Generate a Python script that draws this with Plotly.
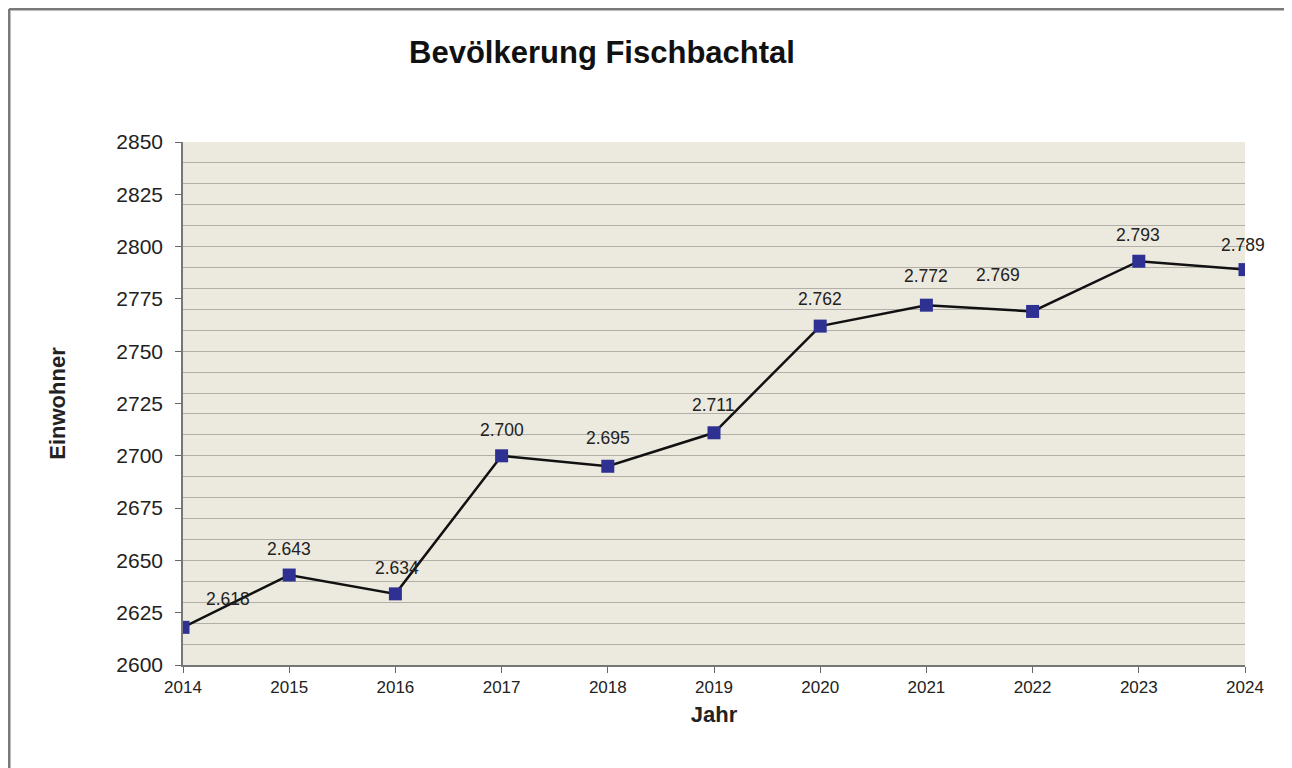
import plotly.graph_objects as go

years = [2014, 2015, 2016, 2017, 2018, 2019, 2020, 2021, 2022, 2023, 2024]
population = [2618, 2643, 2634, 2700, 2695, 2711, 2762, 2772, 2769, 2793, 2789]
labels = ["2.618", "2.643", "2.634", "2.700", "2.695", "2.711", "2.762", "2.772", "2.769", "2.793", "2.789"]
y_ticks = list(range(2600, 2851, 25))

# label offsets in pixels (style)
label_dx = [45, 0, 2, 0, 0, -1, 0, 0, -35, -1, -2]
label_dy = [-28, -26, -26, -26, -28, -28, -27, -29, -36, -26, -25]

FONT = "Liberation Sans, Arial"

fig = go.Figure()
fig.add_trace(go.Scatter(
    x=years, y=population, mode="lines+markers",
    line=dict(color="#111111", width=2.5),
    marker=dict(symbol="square", size=13, color="#2E3192", line=dict(width=0)),
    showlegend=False, hoverinfo="x+y",
))

for x, y, t, dx, dy in zip(years, population, labels, label_dx, label_dy):
    fig.add_annotation(x=x, y=y, text=t, showarrow=False, xshift=dx, yshift=-dy,
                       font=dict(family=FONT, size=17.5, color="#222222"))

W, H = 1284, 760
L, R, T, B = 175, 47, 134, 103
fig.update_layout(
    width=W, height=H,
    margin=dict(l=L, r=R, t=T, b=B),
    paper_bgcolor="white", plot_bgcolor="#ECE9DF",
    title=dict(text="<b>Bevölkerung Fischbachtal</b>", x=594 / W, xanchor="center",
               y=1 - 44 / H, yanchor="middle",
               font=dict(family=FONT, size=31, color="#111111")),
    font=dict(family=FONT, color="#222222"),
)

fig.update_xaxes(
    range=[2014, 2024], tickmode="array", tickvals=years,
    ticktext=[str(y) for y in years],
    tickfont=dict(size=17), ticks="outside", ticklen=6, tickcolor="#666666",
    showline=True, linecolor="#777777", linewidth=1.5, showgrid=False, zeroline=False,
    title=dict(text="<b>Jahr</b>", font=dict(size=22), standoff=10),
)
fig.update_yaxes(
    range=[2600, 2850], tickmode="array", tickvals=y_ticks,
    tickfont=dict(size=21), ticks="outside", ticklen=6, tickcolor="#666666",
    ticklabelstandoff=8,
    showline=True, linecolor="#777777", linewidth=1.5,
    showgrid=False, zeroline=False,
    minor=dict(dtick=10, tick0=2600, showgrid=True, gridcolor="#B2B0A6", gridwidth=1.2),
    title=dict(text="<b>Einwohner</b>", font=dict(size=22), standoff=45),
)

# outer frame lines (left, top, right)
pw, ph = W - L - R, H - T - B
frame = dict(type="line", xref="paper", yref="paper", line=dict(color="#7A7A7A", width=3))
xl = (1 - L) / pw
xr = (1278 - L) / pw
yt = (H - B - 1) / ph
yb = (H - B - 800) / ph
fig.add_shape(**frame, x0=xl, x1=xl, y0=yb, y1=yt)
fig.add_shape(**frame, x0=xl, x1=xr, y0=yt, y1=yt)
fig.add_shape(**frame, x0=xr, x1=xr, y0=yb, y1=yt)

fig.write_html("out.html")
